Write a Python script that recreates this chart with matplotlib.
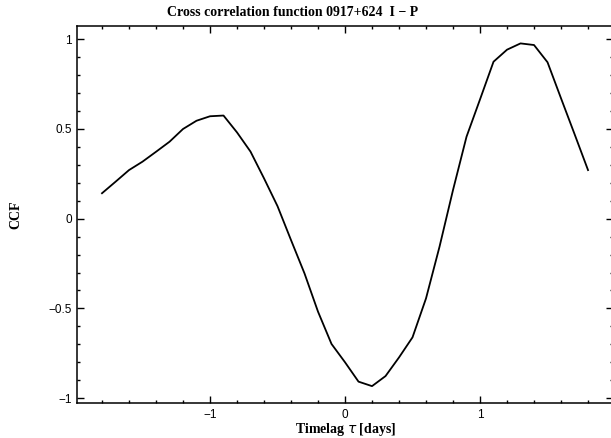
import numpy as np
import matplotlib
matplotlib.use("Agg")
import matplotlib.pyplot as plt
from matplotlib.ticker import MultipleLocator

# time lag grid (days) and cross correlation values, I vs P light curves
lag = [-1.8, -1.7, -1.6, -1.5, -1.4, -1.3, -1.2, -1.1, -1.0, -0.9,
       -0.8, -0.7, -0.6, -0.5, -0.4, -0.3, -0.2, -0.1, 0.0, 0.1,
       0.2, 0.3, 0.4, 0.5, 0.6, 0.7, 0.8, 0.9, 1.0, 1.1,
       1.2, 1.3, 1.4, 1.5, 1.6, 1.7, 1.8]
ccf = [0.142, 0.206, 0.271, 0.318, 0.373, 0.429, 0.500, 0.546, 0.571, 0.575,
       0.481, 0.374, 0.225, 0.070, -0.119, -0.305, -0.518, -0.698, -0.800, -0.908,
       -0.933, -0.877, -0.773, -0.661, -0.444, -0.156, 0.160, 0.457, 0.665, 0.875,
       0.942, 0.977, 0.968, 0.872, 0.671, 0.472, 0.271]

xticks = [-1, 0, 1]
xticklabels = ["\u22121", "0", "1"]
yticks = [-1, -0.5, 0, 0.5, 1]
yticklabels = ["\u22121", "\u22120.5", "0", "0.5", "1"]

W, H = 611, 438
fig = plt.figure(figsize=(W / 100, H / 100), dpi=100)
# frame runs slightly past the right edge of the canvas
ax = fig.add_axes([77.3 / W, 35 / H, (613 - 77.3) / W, 377 / H])

ax.plot(lag, ccf, color="black", lw=1.3)

ax.set_xlim(-1.983, 1.985)
ax.set_ylim(-1.027, 1.074)
ax.set_xticks(xticks)
ax.set_xticklabels(xticklabels, fontsize=8.5, family="Liberation Sans")
ax.set_yticks(yticks)
ax.set_yticklabels(yticklabels, fontsize=8.5, family="Liberation Sans")
ax.xaxis.set_minor_locator(MultipleLocator(0.2))
ax.yaxis.set_minor_locator(MultipleLocator(0.1))
ax.tick_params(which="both", direction="in", top=True, right=True,
               width=1.0, color="black")
ax.tick_params(which="major", length=5)
ax.tick_params(axis="x", which="major", pad=4)
ax.tick_params(axis="y", which="major", pad=4)
ax.tick_params(which="minor", length=2.5)
for s in ax.spines.values():
    s.set_linewidth(1.1)

fig.text(293 / W, 1 - 12 / H, "Cross correlation function 0917+624  I \u2212 P",
         fontsize=10, fontweight="bold", family="Liberation Serif",
         ha="center", va="center")
ax.set_xlabel("Timelag $\\tau$ [days]", fontsize=10, fontweight="bold",
              family="Liberation Serif", labelpad=0)
ax.set_ylabel("CCF", fontsize=10, fontweight="bold", family="Liberation Serif",
              labelpad=19)

fig.savefig("out.png", dpi=100)
